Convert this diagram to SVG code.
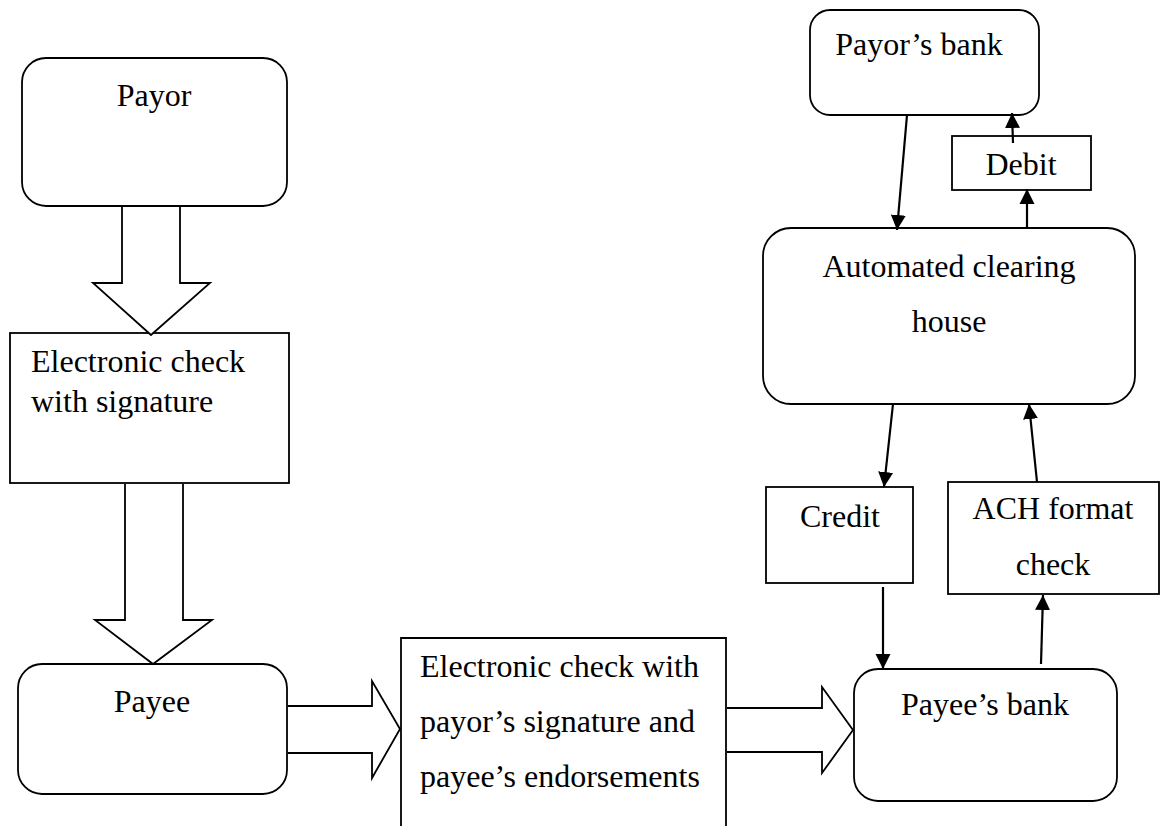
<svg xmlns="http://www.w3.org/2000/svg" width="1161" height="826" viewBox="0 0 1161 826">
<style>
.box{fill:#fff;stroke:#000;stroke-width:1.8}
.big{fill:#fff;stroke:#000;stroke-width:1.8;stroke-linejoin:miter}
text{font-family:'Liberation Serif','DejaVu Serif',serif;font-size:32px;fill:#000}
.c{text-anchor:middle}
.con{stroke:#000;stroke-width:2.2;fill:none;marker-end:url(#ah)}
</style>
<defs>
<marker id="ah" viewBox="0 0 10 10" refX="10" refY="5" markerUnits="userSpaceOnUse" markerWidth="15" markerHeight="16" orient="auto">
<path d="M0,0 L10,5 L0,10 z" fill="#000"/>
</marker>
</defs>
<rect width="1161" height="826" fill="#fff"/>
<g id="payor">
<rect class="box" x="22" y="58" width="265" height="148" rx="24"/>
<text class="c" x="154" y="106">Payor</text>
</g>
<g id="echeck">
<rect class="box" x="10" y="333" width="279" height="150"/>
<text x="31" y="372">Electronic check</text>
<text x="31" y="412">with signature</text>
</g>
<g id="payee">
<rect class="box" x="18" y="664" width="269" height="130" rx="24"/>
<text class="c" x="152" y="712">Payee</text>
</g>
<g id="endorsed">
<path class="box" d="M401,830 V638 H726 V830"/>
<text x="420" y="677">Electronic check with</text>
<text x="420" y="732">payor’s signature and</text>
<text x="420" y="787">payee’s endorsements</text>
</g>
<g id="payeebank">
<rect class="box" x="854" y="669" width="263" height="132" rx="24"/>
<text class="c" x="985" y="715">Payee’s bank</text>
</g>
<g id="credit">
<rect class="box" x="766" y="487" width="147" height="96"/>
<text class="c" x="840" y="527">Credit</text>
</g>
<g id="achcheck">
<rect class="box" x="948" y="482" width="211" height="112"/>
<text class="c" x="1053" y="519">ACH format</text>
<text class="c" x="1053" y="575">check</text>
</g>
<g id="ach">
<rect class="box" x="763" y="228" width="372" height="176" rx="28"/>
<text class="c" x="949" y="277">Automated clearing</text>
<text class="c" x="949" y="332">house</text>
</g>
<g id="debit">
<rect class="box" x="952" y="136" width="139" height="54"/>
<text class="c" x="1021" y="175">Debit</text>
</g>
<g id="payorbank">
<rect class="box" x="810" y="10" width="229" height="105" rx="20"/>
<text class="c" x="919" y="55">Payor’s bank</text>
</g>
<g id="connectors">
<path class="big" d="M122,207 V283 H93 L151,335 L210,283 H180 V207"/>
<path class="big" d="M125,484 V620 H95 L153,664 L212,620 H183 V484"/>
<path class="big" d="M288,706 H372 V681 L400,729 L372,778 V753 H288"/>
<path class="big" d="M727,708 H822 V687 L853,730 L822,773 V752 H727"/>
<line class="con" x1="907" y1="115" x2="897" y2="230"/>
<line class="con" x1="1027" y1="228" x2="1027" y2="189"/>
<line class="con" x1="1013" y1="143" x2="1012" y2="113"/>
<line class="con" x1="893" y1="404" x2="884" y2="487"/>
<line class="con" x1="1037" y1="482" x2="1029" y2="404"/>
<line class="con" x1="883" y1="587" x2="883" y2="669"/>
<line class="con" x1="1041" y1="664" x2="1043" y2="595"/>
</g>
</svg>
